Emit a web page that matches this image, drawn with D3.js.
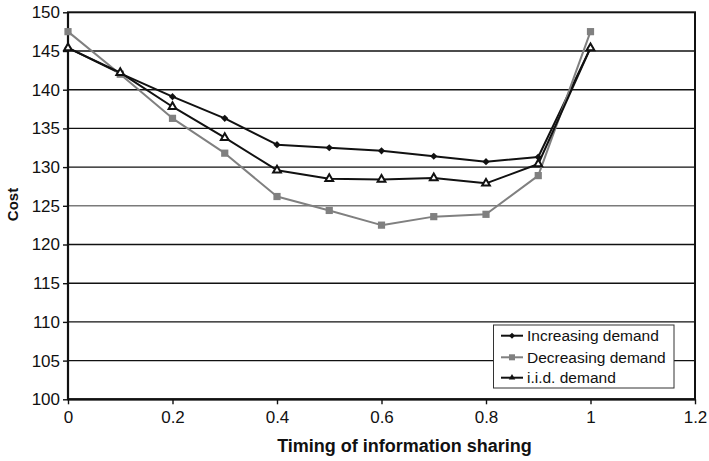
<!DOCTYPE html>
<html>
<head>
<meta charset="utf-8">
<script src="https://cdn.jsdelivr.net/npm/d3@7"></script>
<style>
  html, body { margin: 0; padding: 0; background: #fff; }
  svg { display: block; font-family: Arial, "Liberation Sans", sans-serif; }
</style>
</head>
<body>
<svg id="chart" width="709" height="461"></svg>
<script>
// Timing of information sharing vs cost, three demand processes
const timing = [0, 0.1, 0.2, 0.3, 0.4, 0.5, 0.6, 0.7, 0.8, 0.9, 1.0];
const increasingDemand = [145.4, 142.1, 139.1, 136.3, 132.9, 132.5, 132.1, 131.4, 130.7, 131.3, 145.4];
const decreasingDemand = [147.5, 142.0, 136.3, 131.8, 126.2, 124.4, 122.5, 123.6, 123.9, 128.9, 147.5];
const iidDemand        = [145.4, 142.2, 137.8, 133.8, 129.6, 128.5, 128.4, 128.6, 127.9, 130.4, 145.4];
const seriesNames = ["Increasing demand", "Decreasing demand", "i.i.d. demand"];
const xTicks = [0, 0.2, 0.4, 0.6, 0.8, 1, 1.2];
const yTicks = [100, 105, 110, 115, 120, 125, 130, 135, 140, 145, 150];

const svg = d3.select("#chart");
const plotL = 68, plotR = 695, plotT = 12.3, plotB = 399.3;

const x = d3.scaleLinear().domain([0, 1.2]).range([plotL, plotR]);
const y = d3.scaleLinear().domain([100, 150]).range([plotB, plotT]);

// horizontal gridlines
svg.append("g").selectAll("line").data(yTicks.filter(v => v > 100 && v < 150)).join("line")
  .attr("x1", plotL).attr("x2", plotR)
  .attr("y1", d => y(d)).attr("y2", d => y(d))
  .attr("stroke", d => d === 125 ? "#7a7a7a" : "#111")
  .attr("stroke-width", 1.4);

// plot frame
svg.append("rect")
  .attr("x", plotL).attr("y", plotT)
  .attr("width", plotR - plotL).attr("height", plotB - plotT)
  .attr("fill", "none").attr("stroke", "#111").attr("stroke-width", 2);

// axes
const yAxis = d3.axisLeft(y).tickValues(yTicks).tickSize(5).tickPadding(3).tickFormat(d3.format("d"));
const yg = svg.append("g").attr("transform", `translate(${plotL},0)`).call(yAxis);
const xAxis = d3.axisBottom(x).tickValues(xTicks).tickSize(5).tickPadding(6).tickFormat(d => String(d));
const xg = svg.append("g").attr("transform", `translate(0,${plotB})`).call(xAxis);
[yg, xg].forEach(g => {
  g.select(".domain").remove();
  g.selectAll(".tick line").attr("stroke", "#111").attr("stroke-width", 1.4);
  g.selectAll(".tick text").attr("fill", "#111").style("font-size", "17px");
});
xg.selectAll(".tick text").attr("dy", "0.75em");
// bold left and bottom axis lines over the gridlines
svg.append("line").attr("x1", plotL).attr("x2", plotL).attr("y1", plotT).attr("y2", plotB)
  .attr("stroke", "#111").attr("stroke-width", 2.2);
svg.append("line").attr("x1", plotL).attr("x2", plotR).attr("y1", plotB).attr("y2", plotB)
  .attr("stroke", "#111").attr("stroke-width", 2.2);

// axis titles
svg.append("text")
  .attr("x", (276 + 533) / 2).attr("y", 452)
  .attr("text-anchor", "middle")
  .style("font-size", "18px").style("font-weight", "bold").attr("fill", "#111")
  .text("Timing of information sharing");
svg.append("text")
  .attr("transform", `translate(18,${204.5}) rotate(-90)`)
  .attr("text-anchor", "middle")
  .style("font-size", "15px").style("font-weight", "bold").attr("fill", "#111")
  .text("Cost");

// series: diamond is a square turned by 45 degrees
const series = [
  { name: seriesNames[0], values: increasingDemand, color: "#111", symbol: d3.symbolSquare, rot: 45, size: 26, fill: "#111", stroke: "none" },
  { name: seriesNames[1], values: decreasingDemand, color: "#808080", symbol: d3.symbolSquare, rot: 0, size: 52, fill: "#808080", stroke: "none" },
  { name: seriesNames[2], values: iidDemand, color: "#111", symbol: d3.symbolTriangle, rot: 0, size: 26, fill: "#fff", stroke: "#111" }
];

const line = d3.line().x(d => x(d[0])).y(d => y(d[1]));

series.forEach(s => {
  const pts = timing.map((t, i) => [t, s.values[i]]);
  const g = svg.append("g");
  g.append("path").datum(pts).attr("d", line)
    .attr("fill", "none").attr("stroke", s.color).attr("stroke-width", 2)
    .attr("stroke-linejoin", "round");
  g.selectAll("path.m").data(pts).join("path").attr("class", "m")
    .attr("transform", d => `translate(${x(d[0])},${y(d[1])}) rotate(${s.rot})`)
    .attr("d", d3.symbol().type(s.symbol).size(s.size))
    .attr("fill", s.fill)
    .attr("stroke", s.stroke)
    .attr("stroke-width", 2);
});

// legend
const lg = svg.append("g");
lg.append("rect").attr("x", 493.5).attr("y", 325).attr("width", 180.5).attr("height", 63)
  .attr("fill", "#fff").attr("stroke", "#333").attr("stroke-width", 1);
const rowY = [335.7, 357.3, 377.7];
series.forEach((s, i) => {
  lg.append("line").attr("x1", 501).attr("x2", 523).attr("y1", rowY[i]).attr("y2", rowY[i])
    .attr("stroke", s.color).attr("stroke-width", 2);
  lg.append("path").attr("transform", `translate(512,${rowY[i]}) rotate(${s.rot})`)
    .attr("d", d3.symbol().type(s.symbol).size(s.size * 0.7))
    .attr("fill", s.stroke === "none" ? s.fill : "#111");
  lg.append("text").attr("x", 527).attr("y", rowY[i]).attr("dy", "0.36em")
    .style("font-size", "15.5px").attr("fill", "#111").text(s.name);
});
</script>
</body>
</html>
